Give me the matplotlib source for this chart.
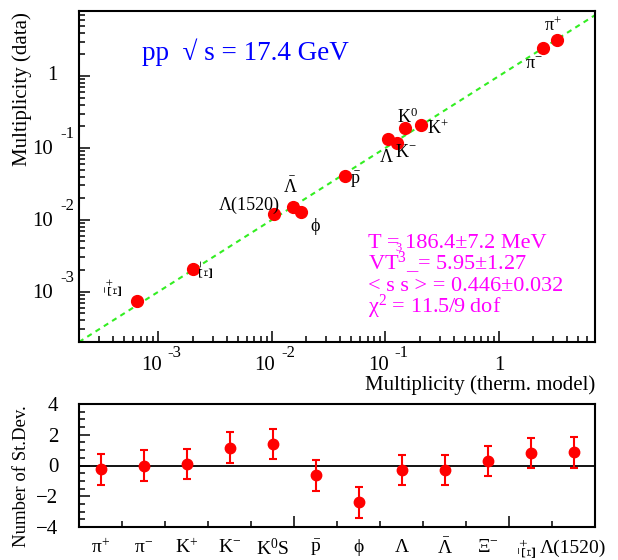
import numpy as np
import matplotlib
matplotlib.use("Agg")
import matplotlib.pyplot as plt
from matplotlib.ticker import NullFormatter, FixedLocator, MultipleLocator
import matplotlib.transforms as mtransforms

plt.rcParams["font.family"] = ["Liberation Serif", "DejaVu Serif"]
plt.rcParams["mathtext.fontset"] = "custom"
plt.rcParams["mathtext.rm"] = "Liberation Serif"
plt.rcParams["mathtext.it"] = "Liberation Serif:italic"
plt.rcParams["mathtext.bf"] = "Liberation Serif:bold"

# Multiplicities: thermal model (x) vs data (y)
names = ["π$^{+}$", "π$^{-}$", "K$^{+}$", "K$^{-}$", "K$^{0}$", r"$\bar{\mathrm{p}}$",
         "ϕ", "Λ", r"$\bar{\Lambda}$", r"$\Xi^{-}$", r"$\bar{\Xi}^{+}$", "Λ(1520)"]
model = [3.25, 2.45, 0.205, 0.126, 0.148, 0.0437, 0.018, 0.105, 0.0153, 0.0020, 0.00065, 0.0104]
data = [3.16, 2.45, 0.209, 0.117, 0.19, 0.041, 0.0129, 0.133, 0.0151, 0.0021, 0.00075, 0.0121]

# Deviations in units of standard deviation
dev_names = ["π$^{+}$", "π$^{-}$", "K$^{+}$", "K$^{-}$", "K$^{0}$S", r"$\bar{\mathrm{p}}$",
             "ϕ", "Λ", r"$\bar{\Lambda}$", r"$\Xi^{-}$", r"$\bar{\Xi}^{+}$", "Λ(1520)"]
deviation = [-0.25, 0.0, 0.1, 1.15, 1.4, -0.65, -2.4, -0.3, -0.3, 0.3, 0.82, 0.85]
dev_err = [1.0, 1.0, 1.0, 1.0, 1.0, 1.0, 1.0, 1.0, 1.0, 1.0, 1.0, 1.0]

fit_lines = ["T = 186.4±7.2 MeV", "VT$^{3}$_= 5.95±1.27",
             "< s s > = 0.446±0.032", "χ$^{2}$ = 11.5/9 dof"]

# label offsets in pixels (dx, dy) and rotation for the top panel
label_offsets = [(-4, 14), (-9, -16), (17, -4), (9, -10), (3, 11), (11, -4),
                 (14, -15), (-2, -19), (-2, 20), (16, 0), (-20, 14), (-25, 9)]
label_rot = [0, 0, 0, 0, 0, 0, 0, 0, 0, 90, 90, 0]

PX = 0.72  # points per pixel at dpi 100
W, H = 618, 560


def decade_labels(ax, values, axis):
    for v in values:
        e = int(round(np.log10(v)))
        if axis == "x":
            tr = mtransforms.blended_transform_factory(ax.transData, ax.transAxes)
            xy = (v, 0)
            if e == 0:
                ax.annotate("1", xy, xycoords=tr, xytext=(0, -24 * PX), textcoords="offset points",
                            ha="center", va="center", fontsize=15)
            else:
                ax.annotate("10", xy, xycoords=tr, xytext=(-7 * PX, -24 * PX), textcoords="offset points",
                            ha="center", va="center", fontsize=15)
                ax.annotate(str(e), xy, xycoords=tr, xytext=(9 * PX, -11 * PX), textcoords="offset points",
                            ha="left", va="center", fontsize=12)
        else:
            tr = mtransforms.blended_transform_factory(ax.transAxes, ax.transData)
            xy = (0, v)
            if e == 0:
                ax.annotate("1", xy, xycoords=tr, xytext=(-21 * PX, 0), textcoords="offset points",
                            ha="right", va="center", fontsize=15)
            else:
                ax.annotate("10", xy, xycoords=tr, xytext=(-26 * PX, -2 * PX), textcoords="offset points",
                            ha="right", va="center", fontsize=15)
                ax.annotate(str(e), xy, xycoords=tr, xytext=(-19 * PX, 14 * PX), textcoords="offset points",
                            ha="left", va="center", fontsize=12)


def main():
    fig = plt.figure(figsize=(W / 100, H / 100), dpi=100)

    # ---------- top panel ----------
    ax = fig.add_axes([79 / W, 1 - 342 / H, 516 / W, 331 / H])
    ax.set_xscale("log")
    ax.set_yscale("log")
    ax.set_xlim(2e-4, 7)
    ax.set_ylim(2e-4, 8)

    lim = np.array([2e-4, 8])
    ax.plot(lim, lim, color="#33ee22", lw=1.5, dashes=(2.5, 2.2), zorder=1)
    ax.plot(model, data, "o", color="red", ms=8.5, mec="red", zorder=3)

    for name, mx, dy_, (ox, oy), rot in zip(names, model, data, label_offsets, label_rot):
        ax.annotate(name, (mx, dy_), xytext=(ox * PX, oy * PX), textcoords="offset points",
                    ha="center", va="center", fontsize=13, rotation=rot, zorder=5)

    ax.text((142 - 79) / 516, (342 - 60) / 331, "pp  √ s = 17.4 GeV", transform=ax.transAxes,
            color="blue", fontsize=19.5, ha="left", va="baseline")

    for i, line in enumerate(fit_lines):
        ax.text((368 - 79) / 516, (342 - 248 - 21.5 * i) / 331, line, transform=ax.transAxes,
                color="magenta", fontsize=16, ha="left", va="baseline")
    # stray exponent printed just after the "=" in the first line
    ax.text((395 - 79) / 516, (342 - 251) / 331, "3", transform=ax.transAxes,
            color="magenta", fontsize=9, ha="left", va="baseline")

    for sp in ax.spines.values():
        sp.set_linewidth(1.5)
    ax.tick_params(which="both", direction="in", top=False, right=False, width=1.1,
                   labelbottom=False, labelleft=False)
    ax.tick_params(which="major", length=8)
    ax.tick_params(which="minor", length=4)
    ax.xaxis.set_minor_formatter(NullFormatter())
    ax.yaxis.set_minor_formatter(NullFormatter())
    decade_labels(ax, [1e-3, 1e-2, 1e-1, 1], "x")
    decade_labels(ax, [1e-3, 1e-2, 1e-1, 1], "y")

    fig.text(595 / W, 1 - 385 / H, "Multiplicity (therm. model)", ha="right", va="center", fontsize=15)
    fig.text(22 / W, 1 - 12 / H, "Multiplicity (data)", ha="center", va="top", rotation=90, fontsize=15)

    # ---------- bottom panel ----------
    bx = fig.add_axes([79 / W, 1 - 527 / H, 516 / W, 123 / H])
    xpos = np.arange(len(deviation)) + 0.5
    bx.axhline(0, color="black", lw=1.3, zorder=1)
    bx.errorbar(xpos, deviation, yerr=dev_err, fmt="o", color="red", ms=7.5, elinewidth=1.5,
                capsize=3, capthick=1.5, zorder=3)
    bx.set_xlim(0, len(deviation))
    bx.set_ylim(-4, 4)

    for sp in bx.spines.values():
        sp.set_linewidth(1.5)
    bx.xaxis.set_major_locator(FixedLocator([5, 10]))
    bx.xaxis.set_minor_locator(FixedLocator([1, 2, 3, 4, 6, 7, 8, 9, 11]))
    bx.yaxis.set_major_locator(MultipleLocator(2))
    bx.yaxis.set_minor_locator(MultipleLocator(0.5))
    bx.tick_params(which="both", direction="in", top=False, right=False, width=1.1, labelbottom=False)
    bx.tick_params(axis="x", which="major", length=8)
    bx.tick_params(axis="x", which="minor", length=4)
    bx.tick_params(axis="y", which="major", length=8, labelsize=15, pad=15)
    bx.tick_params(axis="y", which="minor", length=4)

    tr = mtransforms.blended_transform_factory(bx.transData, bx.transAxes)
    for i, (x, name) in enumerate(zip(xpos, dev_names)):
        rot = 90 if i == 10 else 0
        bx.annotate(name, (x, 0), xycoords=tr, xytext=(0, -21 * PX), textcoords="offset points",
                    ha="center", va="center", fontsize=14, rotation=rot)

    fig.text(22 / W, 1 - 405 / H, "Number of St.Dev.", ha="center", va="top", rotation=90, fontsize=13.5)

    fig.savefig("out.png", dpi=100)


if __name__ == "__main__":
    main()
